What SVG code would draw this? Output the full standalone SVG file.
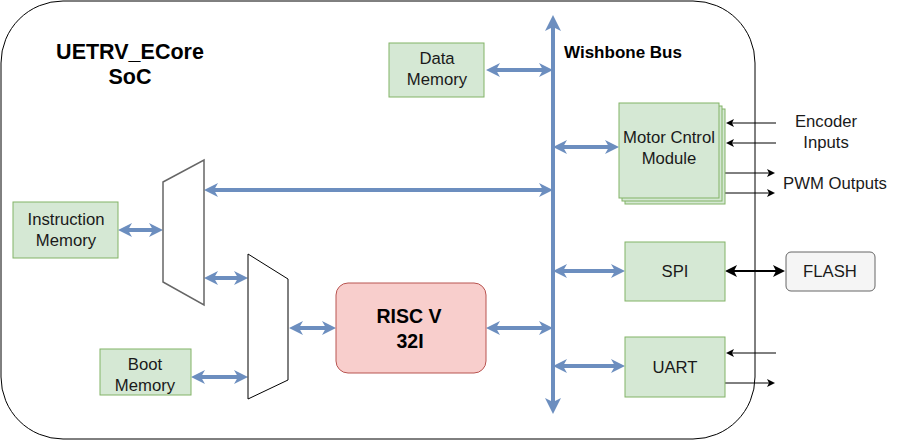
<svg xmlns="http://www.w3.org/2000/svg" width="897" height="441" viewBox="0 0 897 441">
<style>
  .t { font-family: "Liberation Sans", Arial, sans-serif; font-size: 16.7px; fill: #1a1a1a; text-anchor: middle; }
  .b { font-weight: bold; fill: #000; }
  .g { fill: #d5e8d4; stroke: #82b366; stroke-width: 1; }
  .bl { fill: none; stroke: #6c8ebf; stroke-width: 4; marker-start: url(#ab); marker-end: url(#ab); }
  .bk { fill: none; stroke: #000; stroke-width: 1; marker-end: url(#ak); }
</style>
<defs>
  <marker id="ab" viewBox="0 0 14 14" markerWidth="14" markerHeight="14" markerUnits="userSpaceOnUse" refX="4" refY="7" orient="auto-start-reverse">
    <path d="M0,0 L14,7 L0,14 L4,7 Z" fill="#6c8ebf"/>
  </marker>
  <marker id="abig" viewBox="0 0 16 16" markerWidth="16" markerHeight="16" markerUnits="userSpaceOnUse" refX="4" refY="8" orient="auto-start-reverse">
    <path d="M0,0 L16,8 L0,16 L4,8 Z" fill="#6c8ebf"/>
  </marker>
  <marker id="ak" viewBox="0 0 8 8" markerWidth="8" markerHeight="8" markerUnits="userSpaceOnUse" refX="2" refY="4" orient="auto-start-reverse">
    <path d="M0,0 L8,4 L0,8 L2,4 Z" fill="#000"/>
  </marker>
  <marker id="ak2" viewBox="0 0 12 12" markerWidth="12" markerHeight="12" markerUnits="userSpaceOnUse" refX="3" refY="6" orient="auto-start-reverse">
    <path d="M0,0 L12,6 L0,12 L3,6 Z" fill="#000"/>
  </marker>
</defs>
<rect width="897" height="441" fill="#fff"/>

<g id="soc">
  <rect x="1" y="1" width="754" height="438" rx="62" ry="62" fill="none" stroke="#000" stroke-width="1"/>
  <text class="t b" x="130" y="59" style="font-size:21.5px">UETRV_ECore</text>
  <text class="t b" x="130" y="84" style="font-size:21.5px">SoC</text>
</g>

<g id="connectors">
  <line x1="553" y1="27" x2="553" y2="402" stroke="#6c8ebf" stroke-width="4" marker-start="url(#abig)" marker-end="url(#abig)"/>
  <line class="bl" x1="496" y1="70" x2="543" y2="70"/>
  <line class="bl" x1="563" y1="147" x2="609" y2="147"/>
  <line class="bl" x1="214" y1="190" x2="543" y2="190"/>
  <line class="bl" x1="128" y1="230" x2="153" y2="230"/>
  <line class="bl" x1="214" y1="278" x2="238" y2="278"/>
  <line class="bl" x1="563" y1="271" x2="615" y2="271"/>
  <line class="bl" x1="299" y1="328" x2="326" y2="328"/>
  <line class="bl" x1="496" y1="328" x2="543" y2="328"/>
  <line class="bl" x1="563" y1="366" x2="615" y2="366"/>
  <line class="bl" x1="201" y1="377" x2="238" y2="377"/>
  <line class="bk" x1="776" y1="123" x2="732" y2="123"/>
  <line class="bk" x1="776" y1="143" x2="732" y2="143"/>
  <line class="bk" x1="725" y1="173" x2="769" y2="173"/>
  <line class="bk" x1="725" y1="193" x2="769" y2="193"/>
  <line x1="734" y1="271" x2="776" y2="271" stroke="#000" stroke-width="2" marker-start="url(#ak2)" marker-end="url(#ak2)"/>
  <line class="bk" x1="776" y1="353" x2="732" y2="353"/>
  <line class="bk" x1="725" y1="383" x2="769" y2="383"/>
</g>

<g id="bus-label">
  <text class="t b" x="623" y="58" style="font-size:17px">Wishbone Bus</text>
</g>

<g id="data-memory">
  <rect class="g" x="389" y="43" width="95" height="54"/>
  <text class="t" x="437" y="64">Data</text>
  <text class="t" x="437" y="85">Memory</text>
</g>

<g id="motor-control">
  <rect class="g" x="625" y="109" width="100" height="95"/>
  <rect class="g" x="622" y="106" width="100" height="95"/>
  <rect class="g" x="619" y="103" width="100" height="95"/>
  <text class="t" x="669" y="143">Motor Cntrol</text>
  <text class="t" x="669" y="164">Module</text>
</g>

<g id="encoder-label">
  <text class="t" x="826" y="127">Encoder</text>
  <text class="t" x="826" y="148">Inputs</text>
</g>
<g id="pwm-label">
  <text class="t" x="835" y="189">PWM Outputs</text>
</g>

<g id="instruction-memory">
  <rect class="g" x="13" y="202" width="105" height="56"/>
  <text class="t" x="66" y="225">Instruction</text>
  <text class="t" x="66" y="246">Memory</text>
</g>

<g id="mux1">
  <path d="M163,182 L204,160 L204,305 L163,282 Z" fill="#fff" stroke="#666" stroke-width="1.5"/>
</g>

<g id="mux2">
  <path d="M248,254 L288,279 L288,380 L248,399 Z" fill="#fff" stroke="#000" stroke-width="1"/>
</g>

<g id="boot-memory">
  <rect class="g" x="100" y="349" width="91" height="46"/>
  <text class="t" x="145" y="370">Boot</text>
  <text class="t" x="145" y="391">Memory</text>
</g>

<g id="riscv">
  <rect x="336" y="283" width="150" height="90" rx="12" ry="12" fill="#f8cecc" stroke="#b85450" stroke-width="1"/>
  <text class="t b" x="409" y="323" style="font-size:19.5px">RISC V</text>
  <text class="t b" x="410" y="348" style="font-size:19.5px">32I</text>
</g>

<g id="spi">
  <rect class="g" x="625" y="242" width="100" height="59"/>
  <text class="t" x="675" y="277">SPI</text>
</g>

<g id="flash">
  <rect x="786" y="252" width="89" height="39" rx="5" ry="5" fill="#f5f5f5" stroke="#666" stroke-width="1"/>
  <text class="t" x="830" y="277">FLASH</text>
</g>

<g id="uart">
  <rect class="g" x="625" y="337" width="100" height="60"/>
  <text class="t" x="675" y="373">UART</text>
</g>
</svg>
